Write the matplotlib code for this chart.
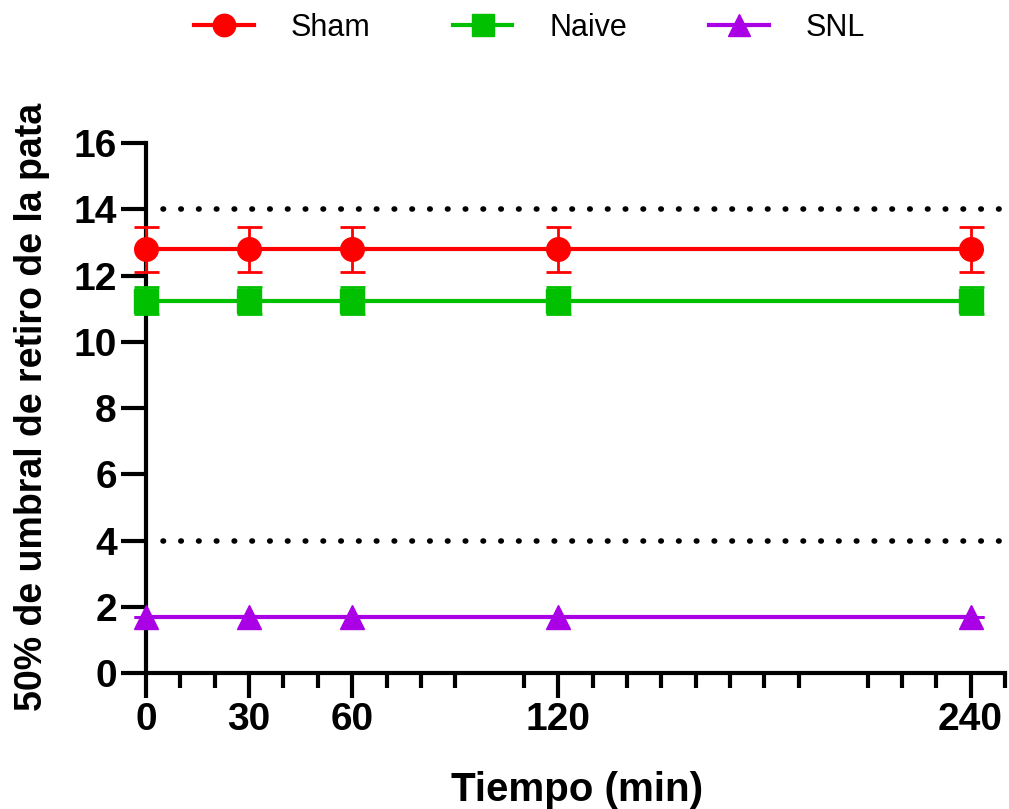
import matplotlib.pyplot as plt
from matplotlib.ticker import FixedLocator
import numpy as np

plt.rcParams['font.family'] = ['Liberation Sans', 'DejaVu Sans']

# data
tiempo = [0, 30, 60, 120, 240]
groups = ['Sham', 'Naive', 'SNL']
sham = [12.8, 12.8, 12.8, 12.8, 12.8]
sham_err = [0.68, 0.68, 0.68, 0.68, 0.68]
naive = [11.25, 11.25, 11.25, 11.25, 11.25]
naive_err = [0.42, 0.42, 0.42, 0.42, 0.42]
snl = [1.7, 1.7, 1.7, 1.7, 1.7]
snl_err = [0.0, 0.0, 0.0, 0.0, 0.0]
ref_lines = [14, 4]
x_major = [0, 30, 60, 120, 240]
x_minor = [10, 20, 40, 50, 70, 80, 90, 110, 130, 140, 150, 160, 170, 180,
           190, 210, 220, 230, 250]
y_ticks = [0, 2, 4, 6, 8, 10, 12, 14, 16]

colors = ['#FF0000', '#00C000', '#AA00E6']
markers = ['o', 's', '^']

fig = plt.figure(figsize=(10.09, 8.09), dpi=100)
ax = fig.add_axes([0.1447, 0.168, 0.8513, 0.655])

handles = []
for vals, errs, name, c, m in zip([sham, naive, snl], [sham_err, naive_err, snl_err],
                                  groups, colors, markers):
    eb = ax.errorbar(tiempo, vals, yerr=errs, color=c, marker=m, markersize=17,
                     linewidth=3, elinewidth=2, capsize=9, capthick=2, label=name,
                     clip_on=False, zorder=3)
    handles.append(eb[0])

for r in ref_lines:
    ax.axhline(r, xmin=0.02, color='black', linewidth=4,
               linestyle=(0, (0.1, 3.1)), dash_capstyle='round', zorder=2)

ax.set_xlim(0, 250)
ax.set_ylim(0, 16)
ax.set_xticks(x_major)
ax.xaxis.set_minor_locator(FixedLocator(x_minor))
ax.set_yticks(y_ticks)

for s in ['top', 'right']:
    ax.spines[s].set_visible(False)
for s in ['left', 'bottom']:
    ax.spines[s].set_linewidth(3)

ax.tick_params(axis='both', which='major', width=3, length=18, labelsize=28, pad=3)
ax.tick_params(axis='x', which='minor', width=3, length=11)
for lab in ax.get_xticklabels() + ax.get_yticklabels():
    lab.set_fontweight('bold')

ax.set_xlabel('Tiempo (min)', fontsize=29, fontweight='bold')
ax.xaxis.set_label_coords(0.502, -0.185)
ax.set_ylabel('50% de umbral de retiro de la pata', fontsize=27, fontweight='bold')
ax.yaxis.set_label_coords(-0.112, 0.502)

fig.legend(handles, groups, loc='center', bbox_to_anchor=(0.525, 0.966), ncol=3,
           frameon=False, fontsize=22,
           handlelength=1.95, handletextpad=1.2, columnspacing=2.7,
           markerscale=0.95)

fig.savefig('out.png', dpi=100)
